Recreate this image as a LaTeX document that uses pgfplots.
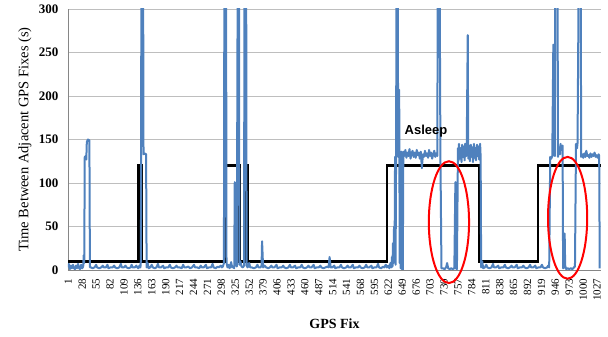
\documentclass[border=0pt]{standalone}
\usepackage{pgfplots}
\pgfplotsset{compat=1.18}
\usepackage{pgfplotstable}
\usepackage{fontspec}
\setmainfont{Liberation Serif}
\setsansfont{Liberation Sans}
\definecolor{xlblue}{RGB}{79,129,189}
\definecolor{gridgray}{RGB}{190,190,190}
\definecolor{axgray}{RGB}{134,134,134}

\pgfplotstableread{
x y
1 3
2 7
4 1
6 5
8 2
10 6
12 2
14 1
16 5
18 2
20 7
22 2
24 1
26 6
28 2
30 4
31 17
32 8
33 130
35 131
36 127
37 147
39 150
42 149
43 3
45 3
48 2
52 3
55 6
57 3
61 2
65 3
68 5
70 3
74 3
77 6
79 2
83 3
87 3
90 5
92 3
96 2
100 3
103 7
105 3
109 3
112 5
114 3
118 2
122 3
124 6
126 3
130 3
133 5
135 3
137 2
139 5
141 3
142 12
143 400
146 400
147 133
149 134
152 133
153 3
155 8
157 2
160 3
163 6
165 3
169 2
172 3
175 7
177 3
181 3
185 5
187 2
191 3
195 3
198 6
200 3
204 2
208 3
211 5
213 3
217 3
221 2
224 6
226 3
230 3
234 4
237 2
241 3
245 6
247 3
251 3
255 2
258 5
260 3
264 3
268 6
270 2
274 3
278 3
281 7
283 3
287 2
291 4
293 3
297 5
299 3
301 4
303 8
304 400
307 400
308 8
310 3
312 6
314 2
317 9
319 3
321 4
323 2
324 101
325 5
326 34
327 8
328 4
330 400
332 400
333 6
335 10
337 4
340 3
342 5
343 400
346 400
347 5
349 3
352 8
354 3
357 3
361 2
365 3
368 6
370 3
374 3
376 5
377 33
379 3
382 5
385 3
389 2
392 3
395 5
397 3
401 3
405 6
407 2
411 3
415 3
418 5
420 3
424 2
428 3
431 6
433 3
437 3
441 5
443 2
447 3
451 3
454 6
456 3
460 2
464 3
467 5
469 3
473 3
477 6
479 2
483 3
487 3
490 5
492 3
496 2
500 3
504 4
506 3
508 15
510 3
513 3
517 5
519 2
523 3
527 3
530 6
532 3
536 2
540 3
543 5
545 3
549 3
553 6
555 2
559 3
563 3
566 5
568 3
572 2
576 3
579 6
581 3
585 3
589 5
591 2
595 3
599 3
602 7
604 3
608 2
612 4
614 3
617 6
619 3
622 5
624 2
626 8
628 3
629 15
630 4
631 31
632 8
633 50
634 12
635 130
636 6
637 135
638 400
640 400
641 130
642 207
643 207
644 8
645 132
646 2
647 136
648 1
649 133
650 0
651 136
653 131
655 138
657 129
659 135
661 131
663 139
665 128
667 134
669 137
671 130
673 135
675 129
677 138
679 132
681 135
683 128
685 136
687 117
689 133
691 130
693 137
695 131
697 134
699 129
701 138
703 131
705 135
707 128
709 133
711 137
713 130
715 134
717 131
718 400
721 400
723 131
725 2
728 2
731 1
734 3
736 8
738 2
741 1
744 2
747 1
750 2
752 101
753 2
755 1
757 140
758 125
759 145
761 128
762 140
764 124
765 144
767 130
768 142
770 126
771 145
773 131
774 141
776 270
777 128
779 143
780 125
782 144
783 130
785 141
786 124
788 145
789 129
791 140
792 126
794 144
795 131
797 142
798 127
800 145
801 130
802 3
804 10
806 2
809 3
812 6
814 3
818 2
822 3
825 7
827 3
831 3
835 5
837 2
841 3
845 3
848 6
850 3
854 2
858 3
861 5
863 3
867 3
871 6
873 2
877 3
881 3
884 5
886 3
890 2
894 3
897 6
899 3
903 3
907 5
909 2
913 3
917 3
920 6
922 3
926 2
930 3
932 5
934 3
936 130
938 128
940 131
942 259
943 133
945 131
946 400
950 400
951 130
953 141
955 133
956 145
958 138
960 143
961 2
963 3
964 42
965 5
967 1
970 2
973 1
976 2
979 1
982 3
984 4
986 145
988 140
989 146
992 400
995 400
996 130
998 133
1000 129
1002 134
1004 130
1006 137
1008 131
1010 132
1012 129
1014 134
1016 130
1018 133
1020 131
1022 135
1024 130
1026 132
1028 129
1030 133
1031 131
1032 2
}\bluedata

\pgfplotstableread{
x y
1 10
137 10
137 120
144 120
144 10
306 10
306 120
333 120
333 10
345 10
345 120
349 120
349 10
619 10
619 120
798 120
798 10
912 10
912 120
1034 120
}\blackdata

\begin{document}
\begin{tikzpicture}
\begin{axis}[
  name=ax,
  scale only axis,
  width=533pt, height=261pt,
  xmin=0.5, xmax=1034.5,
  ymin=0, ymax=300,
  ytick={0,50,...,300},
  xtick={1,28,...,1027},
  scaled x ticks=false,
  axis lines=left,
  axis line style={-, draw=axgray, line width=0.8pt},
  major tick length=0pt,
  ymajorgrids,
  grid style={gridgray, line width=0.8pt},
  clip mode=individual,
  /pgf/number format/assume math mode=true,
  /pgf/number format/1000 sep={},
  xticklabel shift=5pt,
  xticklabel style={rotate=90, anchor=east, font=\fontsize{11}{12}\selectfont},
  yticklabel style={xshift=-6pt, font=\fontsize{13}{14}\selectfont\bfseries},
  xlabel={GPS Fix},
  xlabel style={font=\fontsize{14}{16}\selectfont\bfseries, at={(axis description cs:0.5,-0.207)}, anchor=center},
  ylabel={Time Between Adjacent GPS Fixes (s)},
  ylabel style={font=\fontsize{14.5}{16}\selectfont, at={(axis description cs:-0.0807,0.5)}, anchor=center},
]
\addplot[black, line width=2.5pt] table[x=x,y=y]{\blackdata};
\addplot[xlblue, line width=2pt, line join=round] table[x=x,y=y]{\bluedata};
\node[font=\fontsize{13}{14}\selectfont\sffamily\bfseries] at (axis cs:695,160) {Asleep};
\draw[red, line width=2pt] (axis cs:739.5,55) ellipse [x radius=39, y radius=70];
\draw[red, line width=2pt] (axis cs:969.7,60) ellipse [x radius=38, y radius=70];
\end{axis}
\path (ax.south west) ++(-68pt,-67pt) rectangle ++(608pt,337pt);
\end{tikzpicture}
\end{document}
